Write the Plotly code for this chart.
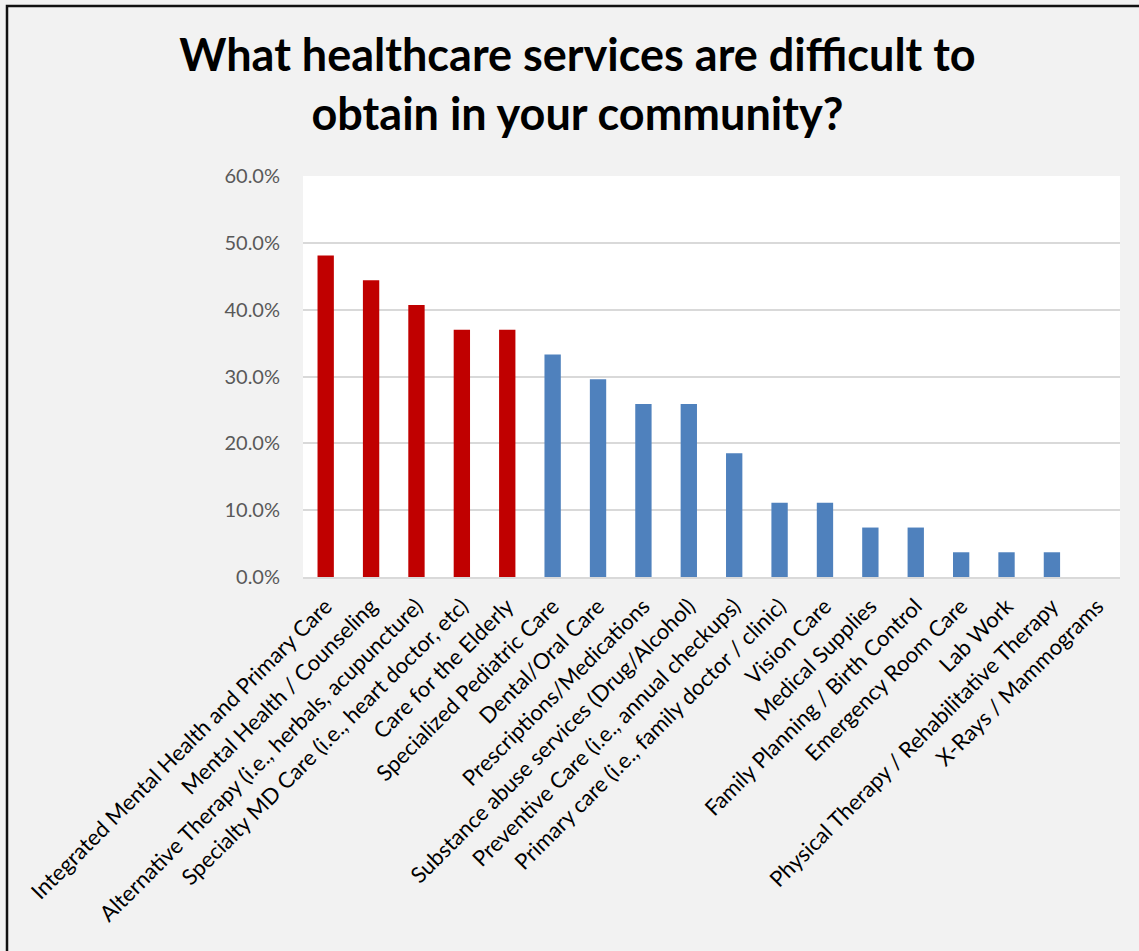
import plotly.graph_objects as go

# Survey responses (share of respondents)
services = [
    'Integrated Mental Health and Primary Care',
    'Mental Health / Counseling',
    'Alternative Therapy (i.e., herbals, acupuncture)',
    'Specialty MD Care (i.e., heart doctor, etc)',
    'Care for the Elderly',
    'Specialized Pediatric Care',
    'Dental/Oral Care',
    'Prescriptions/Medications',
    'Substance abuse services (Drug/Alcohol)',
    'Preventive Care (i.e., annual checkups)',
    'Primary care (i.e., family doctor / clinic)',
    'Vision Care',
    'Medical Supplies',
    'Family Planning / Birth Control',
    'Emergency Room Care',
    'Lab Work',
    'Physical Therapy / Rehabilitative Therapy',
    'X-Rays / Mammograms',
]
shares = [0.481, 0.444, 0.407, 0.370, 0.370, 0.333, 0.296, 0.259, 0.259,
          0.185, 0.111, 0.111, 0.074, 0.074, 0.037, 0.037, 0.037, 0.0]
top_n = 5  # highlighted in red

colors = ['#c00000' if i < top_n else '#4f81bd' for i in range(len(services))]

fig = go.Figure()
fig.add_trace(go.Bar(x=services, y=shares, marker=dict(color=colors, line=dict(width=0)),
                     hoverinfo='x+y'))

fig.update_layout(
    width=1139, height=951,
    margin=dict(l=303, r=19, t=176, b=374),
    paper_bgcolor='#f2f2f2',
    plot_bgcolor='#ffffff',
    bargap=0.64,
    showlegend=False,
    font=dict(family='Lato, Open Sans, sans-serif'),
    title=dict(
        text='What healthcare services are difficult to<br>obtain in your community?',
        x=0.507, xanchor='center', xref='container',
        y=1 - 71 / 951, yanchor='top', yref='container',
        font=dict(family='Lato', size=45, color='#000000', weight='bold'),
    ),
    shapes=[dict(type='rect', xref='paper', yref='paper',
                 x0=(7 - 303) / 817, x1=(1200 - 303) / 817,
                 y0=(577 - 1000) / 401, y1=(577 - 6) / 401,
                 line=dict(color='#111111', width=2.5), fillcolor='rgba(0,0,0,0)', layer='above')],
)

fig.update_xaxes(
    tickangle=-45,
    tickfont=dict(family='Lato', size=22, color='#000000'),
    showline=True, linecolor='#d9d9d9', linewidth=1.5,
    showgrid=False, ticks='', ticklabelstandoff=6,
)
fig.update_yaxes(
    range=[0, 0.6], dtick=0.1, tickformat='.1%',
    tickfont=dict(family='Lato', size=20, color='#595959'),
    showgrid=True, gridcolor='#d9d9d9', gridwidth=1.5,
    zeroline=False, ticks='', ticklabelstandoff=22,
)

fig.write_html('out.html', config={'displayModeBar': False},
               post_script="document.body.style.margin='0';")
